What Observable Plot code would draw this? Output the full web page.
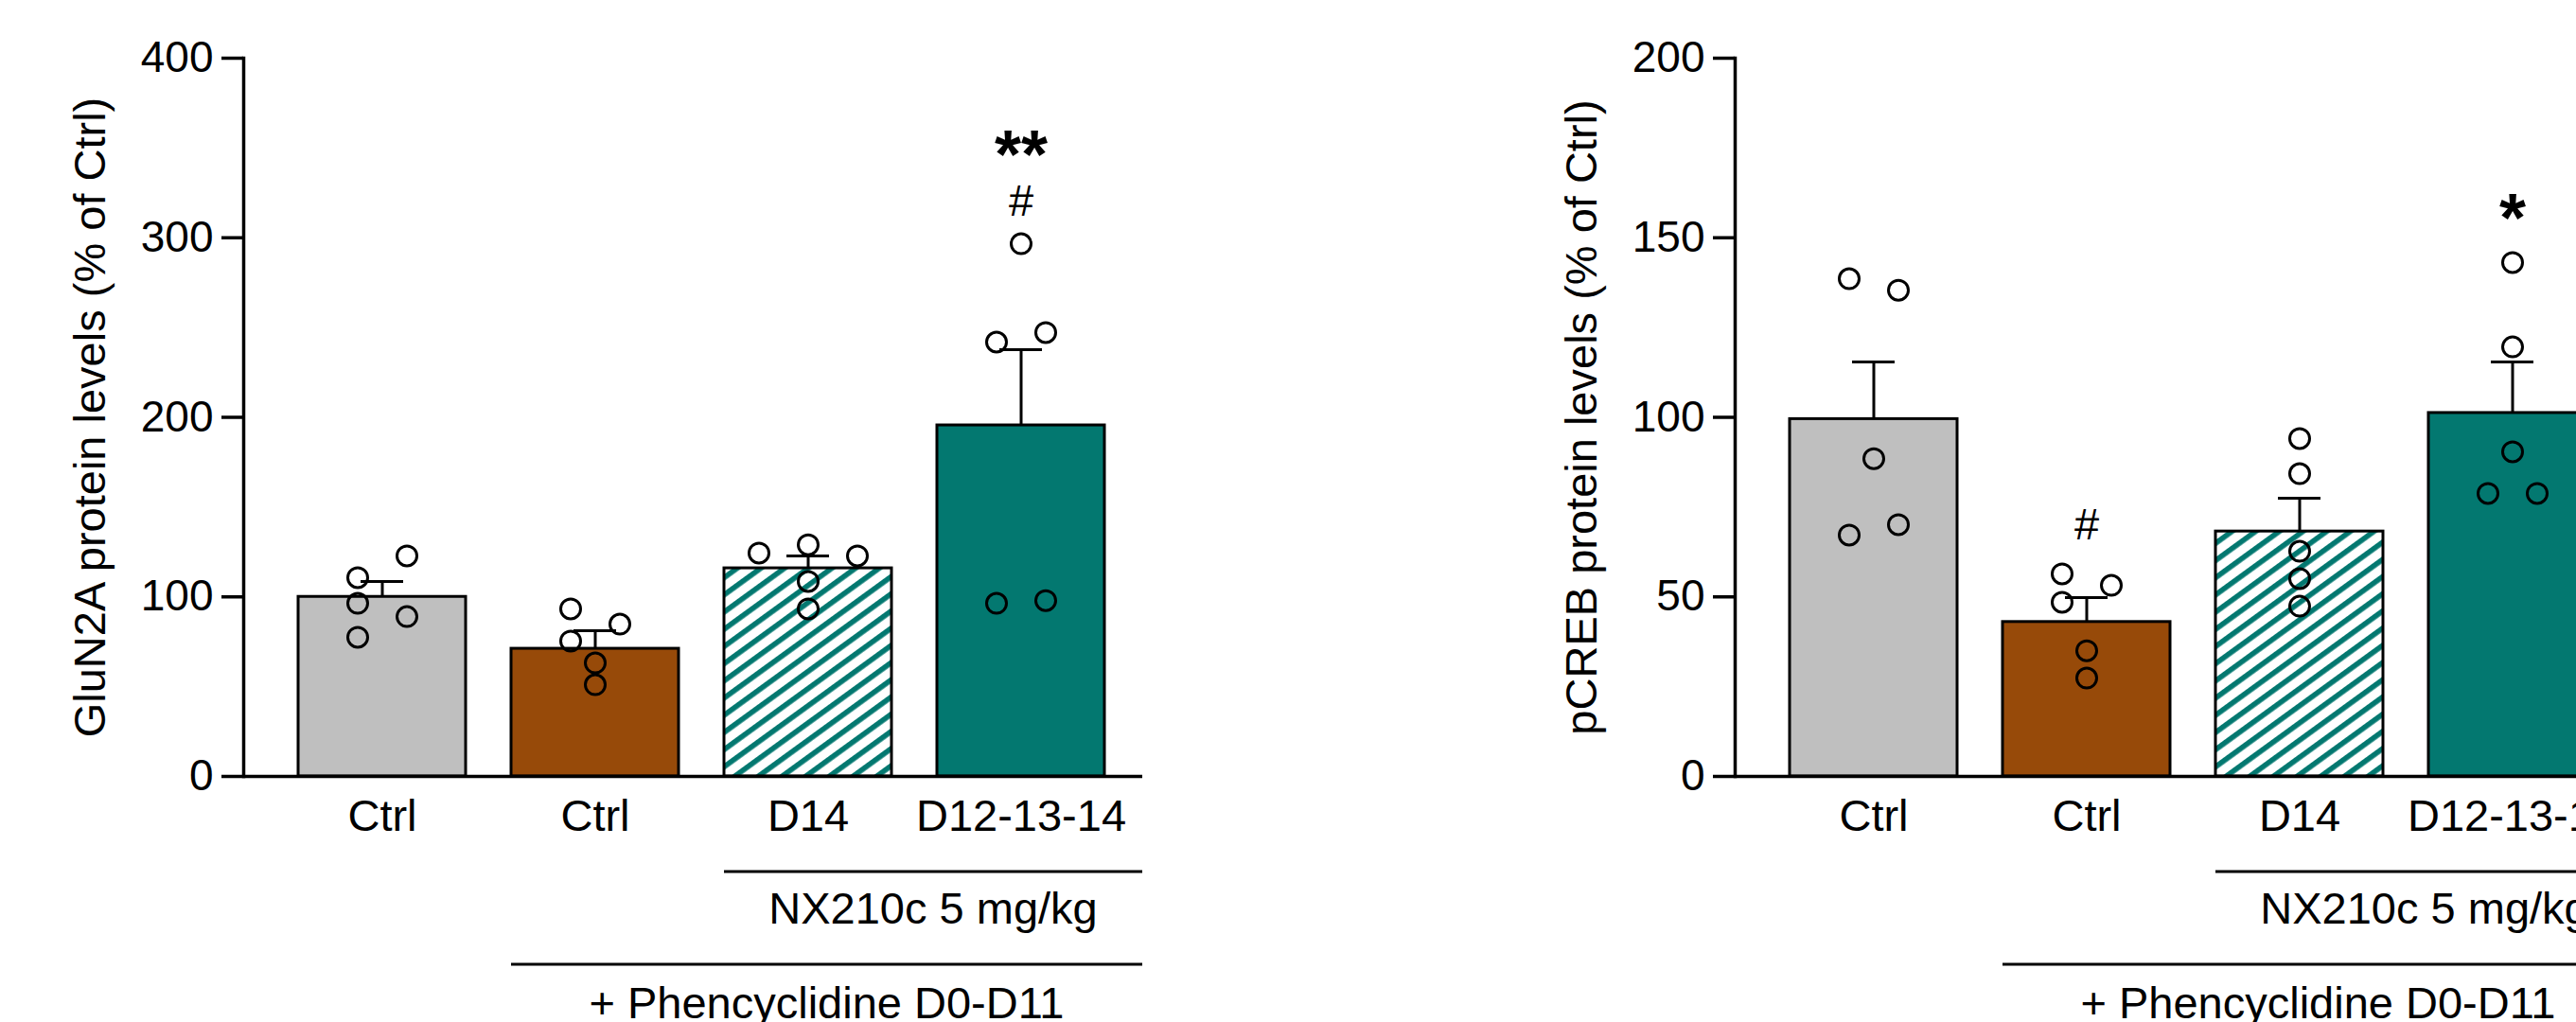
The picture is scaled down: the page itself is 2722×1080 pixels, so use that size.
<!DOCTYPE html>
<html><head><meta charset="utf-8">
<script src="https://cdn.jsdelivr.net/npm/d3@7"></script>
<script src="https://cdn.jsdelivr.net/npm/@observablehq/plot@0.6"></script>
<style>
html,body{margin:0;padding:0;background:#fff;overflow:hidden;width:2722px;height:1080px;}
#wrap{position:relative;width:2722px;height:1080px;overflow:hidden;}
.panel{position:absolute;top:0;width:1576px;height:1080px;}
.panel svg{max-width:none !important;width:1576px;height:1080px;}
</style></head><body><div id="wrap"></div>
<script>
// ---------- data ----------
const groups = ["ctrl", "pcp", "nx_d14", "nx_d12_13_14"];
const groupTickLabels = ["Ctrl", "Ctrl", "D14", "D12-13-14"];
const groupFills = ["#bfbfbf", "#974a09", "HATCH", "#037870"];
const hatchColor = "#037870";

const bracketLabels = ["NX210c 5 mg/kg", "+ Phencyclidine D0-D11"];
const bracketFrom = ["nx_d14", "pcp"];

// GluN2A panel
const glun2aLabel = "GluN2A protein levels (% of Ctrl)";
const glun2aTicks = [0, 100, 200, 300, 400];
const glun2aMean = [100, 71.1, 115.9, 195.5];
const glun2aSem = [8.6, 10.1, 6.9, 42.2];
// [group, value, swarm column]
const glun2aPoints = [
  ["ctrl", 110.7, -1], ["ctrl", 96.4, -1], ["ctrl", 77.5, -1], ["ctrl", 122.8, 1], ["ctrl", 89.0, 1],
  ["pcp", 93.3, -1], ["pcp", 75.4, -1], ["pcp", 84.8, 1], ["pcp", 63.2, 0], ["pcp", 51.1, 0],
  ["nx_d14", 124.4, -2], ["nx_d14", 129.0, 0], ["nx_d14", 108.6, 0], ["nx_d14", 93.3, 0], ["nx_d14", 122.8, 2],
  ["nx_d12_13_14", 296.7, 0], ["nx_d12_13_14", 241.9, -1], ["nx_d12_13_14", 96.4, -1], ["nx_d12_13_14", 247.2, 1], ["nx_d12_13_14", 97.9, 1]
];
const glun2aNotes = [
  {g: "nx_d12_13_14", t: "#", y: 320.4},
  {g: "nx_d12_13_14", t: "**", y: 345.5}
];

// pCREB panel
const pcrebLabel = "pCREB protein levels (% of Ctrl)";
const pcrebTicks = [0, 50, 100, 150, 200];
const pcrebMean = [99.5, 43.0, 68.2, 101.2];
const pcrebSem = [15.9, 6.8, 9.3, 14.2];
const pcrebPoints = [
  ["ctrl", 138.6, -1], ["ctrl", 67.2, -1], ["ctrl", 135.4, 1], ["ctrl", 70.1, 1], ["ctrl", 88.5, 0],
  ["pcp", 56.4, -1], ["pcp", 48.5, -1], ["pcp", 53.2, 1], ["pcp", 35.0, 0], ["pcp", 27.4, 0],
  ["nx_d14", 94.1, 0], ["nx_d14", 84.3, 0], ["nx_d14", 62.7, 0], ["nx_d14", 55.1, 0], ["nx_d14", 47.4, 0],
  ["nx_d12_13_14", 143.1, 0], ["nx_d12_13_14", 119.6, 0], ["nx_d12_13_14", 90.4, 0], ["nx_d12_13_14", 78.8, -1], ["nx_d12_13_14", 78.8, 1]
];
const pcrebNotes = [
  {g: "pcp", t: "#", y: 70.1},
  {g: "nx_d12_13_14", t: "*", y: 155}
];

// ---------- drawing ----------
const FONT = "'Liberation Sans', Arial, Helvetica, sans-serif";
const W = 1576, H = 1080, ML = 257, MR = 369, MT = 61, MB = 260;

function panel(id, yLabel, yTicks, means, sems, points, notes, leftPx) {
  const hatchId = "hatch-" + id;
  const bars = groups.map((g, i) => ({
    g, mean: means[i], top: means[i] + sems[i],
    fill: groupFills[i] === "HATCH" ? `url(#${hatchId})` : groupFills[i]
  }));
  const pts = points.map(([g, v, c]) => ({g, v, c}));
  const hashes = notes.filter(n => n.t.indexOf("*") < 0);
  const stars = notes.filter(n => n.t.indexOf("*") >= 0);
  const plot = Plot.plot({
    width: W, height: H,
    marginLeft: ML, marginRight: MR, marginTop: MT, marginBottom: MB,
    style: {fontFamily: FONT, background: "transparent", color: "black", overflow: "visible", maxWidth: "none"},
    x: {domain: groups, paddingInner: 0.212, paddingOuter: 0.208, align: 0.596, axis: null},
    y: {domain: [0, yTicks[yTicks.length - 1]], axis: null},
    color: {type: "identity"},
    marks: [
      Plot.barY(bars, {x: "g", y: "mean", fill: "fill", stroke: "black", strokeWidth: 3}),
      Plot.ruleX(bars, {x: "g", y1: "mean", y2: "top", stroke: "black", strokeWidth: 3}),
      Plot.tickY(bars, {x: "g", y: "top", stroke: "black", strokeWidth: 3, inset: 66}),
      ...[-2, -1, 0, 1, 2].map(c => Plot.dot(pts.filter(p => p.c === c), {
        x: "g", y: "v", r: 10.5, stroke: "black", strokeWidth: 3, fill: "none", dx: c * 26
      })),
      Plot.frame({anchor: "left", stroke: "black", strokeWidth: 3.5}),
      Plot.ruleY([0], {stroke: "black", strokeWidth: 3.5}),
      Plot.axisY({ticks: yTicks, tickSize: 23, tickPadding: 9, fontSize: 46, strokeWidth: 3.5, label: null}),
      Plot.axisX({tickSize: 0, tickPadding: 24, fontSize: 47, label: null,
        tickFormat: d => groupTickLabels[groups.indexOf(d)]}),
      Plot.text([yLabel], {text: d => d, frameAnchor: "left", textAnchor: "middle", rotate: -90, dx: -162, fontSize: 47, fill: "black"}),
      Plot.text(hashes, {x: "g", y: "y", text: "t", fontSize: 47, fill: "black"}),
      Plot.text(stars, {x: "g", y: "y", text: "t", fontSize: 72, fontWeight: "bold", fill: "black"})
    ]
  });

  const svg = d3.select(plot);
  const defs = svg.insert("defs", ":first-child");
  const pat = defs.append("pattern").attr("id", hatchId)
    .attr("patternUnits", "userSpaceOnUse").attr("width", 14.7).attr("height", 14.7)
    .attr("patternTransform", "rotate(-36)");
  pat.append("rect").attr("width", 14.7).attr("height", 14.7).attr("fill", "white");
  pat.append("rect").attr("width", 14.7).attr("height", 5.6).attr("fill", hatchColor);

  // group brackets under the x axis, using Plot's x scale
  const xs = plot.scale("x");
  const frameRight = W - MR;
  const lineY = [H - MB + 101, H - MB + 199];
  const textY = [H - MB + 156, H - MB + 256];
  const g = svg.append("g");
  bracketLabels.forEach((lab, i) => {
    const x0 = xs.apply(bracketFrom[i]);
    g.append("line").attr("x1", x0).attr("x2", frameRight).attr("y1", lineY[i]).attr("y2", lineY[i])
      .attr("stroke", "black").attr("stroke-width", 3);
    g.append("text").attr("x", (x0 + frameRight) / 2).attr("y", textY[i])
      .attr("text-anchor", "middle").attr("font-size", 47).attr("font-family", FONT)
      .attr("fill", "black").text(lab);
  });

  const div = document.createElement("div");
  div.className = "panel";
  div.style.left = leftPx + "px";
  div.appendChild(plot);
  document.getElementById("wrap").appendChild(div);
}

panel("a", glun2aLabel, glun2aTicks, glun2aMean, glun2aSem, glun2aPoints, glun2aNotes, 0);
panel("b", pcrebLabel, pcrebTicks, pcrebMean, pcrebSem, pcrebPoints, pcrebNotes, 1576);
</script>
</body></html>
